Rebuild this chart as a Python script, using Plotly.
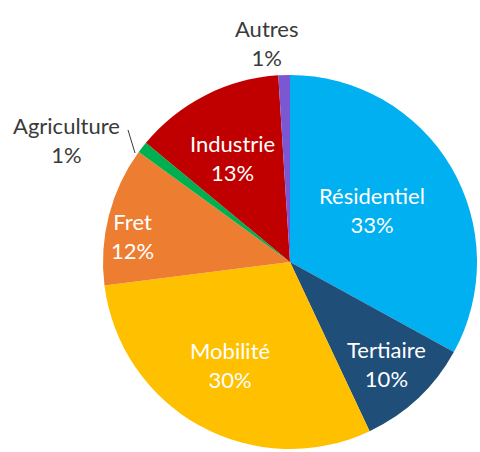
import plotly.graph_objects as go

# Energy consumption breakdown by sector (%)
sectors = ["Résidentiel", "Tertiaire", "Mobilité", "Fret", "Agriculture", "Industrie", "Autres"]
shares = [33, 10, 30, 12, 1, 13, 1]
colors = ["#00B0F0", "#1F4E79", "#FFC000", "#ED7D31", "#00B050", "#C00000", "#7B57D1"]

W, H = 480, 452
CX, CY, R = 290, 262, 187  # pie centre and radius in pixels

# label anchor points (pixels) for each sector, and whether it sits inside the slice
label_pos = {
    "Résidentiel": (372, 210, True),
    "Tertiaire": (386, 364, True),
    "Mobilité": (230, 365, True),
    "Fret": (132, 236, True),
    "Agriculture": (66, 140, False),
    "Industrie": (232, 158, True),
    "Autres": (266, 43, False),
}

FONT = "Lato"

fig = go.Figure(
    go.Pie(
        labels=sectors,
        values=shares,
        marker=dict(colors=colors, line=dict(width=0)),
        sort=False,
        direction="clockwise",
        rotation=0,
        textinfo="none",
        hoverinfo="label+percent",
        showlegend=False,
        domain=dict(
            x=[(CX - R) / W, (CX + R) / W],
            y=[(H - CY - R) / H, (H - CY + R) / H],
        ),
    )
)

annotations = []
for name, val in zip(sectors, shares):
    px, py, inside = label_pos[name]
    annotations.append(
        dict(
            x=px / W,
            y=1 - py / H,
            xref="paper",
            yref="paper",
            text=f"{name}<br>{val}%",
            showarrow=False,
            font=dict(family=FONT, size=22, color="white" if inside else "#3A3A3A"),
            align="center",
            xanchor="center",
            yanchor="middle",
        )
    )

fig.update_layout(
    width=W,
    height=H,
    margin=dict(l=0, r=0, t=0, b=0),
    paper_bgcolor="white",
    plot_bgcolor="white",
    annotations=annotations,
    shapes=[
        # leader line for the Agriculture label
        dict(
            type="line",
            xref="paper",
            yref="paper",
            x0=128 / W,
            y0=1 - 130 / H,
            x1=135 / W,
            y1=1 - 153 / H,
            line=dict(color="#3A3A3A", width=1),
        )
    ],
)

fig.write_html("out.html")
